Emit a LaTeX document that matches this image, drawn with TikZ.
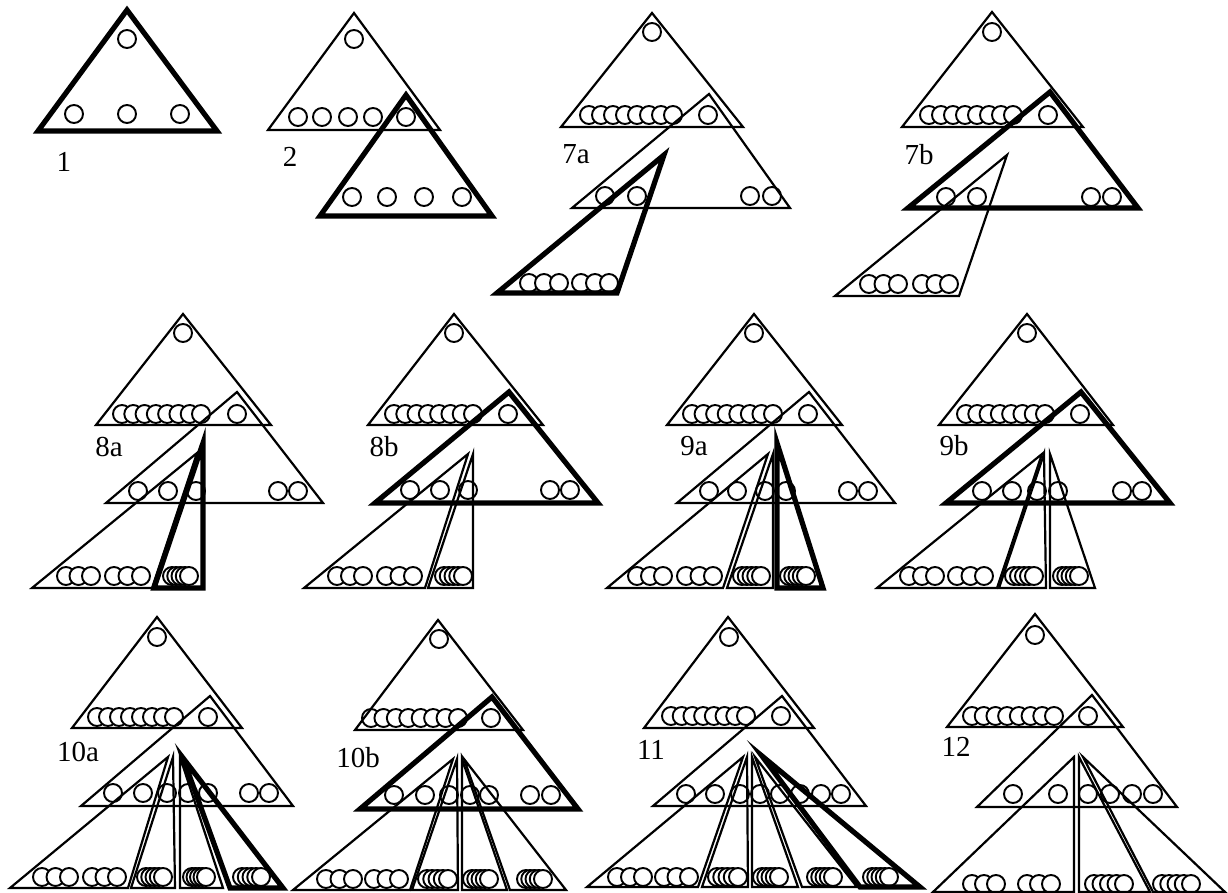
\documentclass[tikz,border=0pt]{standalone}
\usepackage{fontspec}
\setmainfont{Liberation Serif}
\tikzset{
 thintri/.style={draw, line width=1.1pt, line join=miter},
 thicktri/.style={draw, line width=2.6pt, line join=miter},
 ball/.style={draw, fill=white, line width=0.95pt},
 lbl/.style={font=\fontsize{14.5pt}{16pt}\selectfont, anchor=base, inner sep=0pt}
}
\newcommand\Tri[4]{\draw[#1] #2 -- #3 -- #4 -- cycle;}
\newcommand\Balls[2]{\foreach \bx in {#1} {\draw[ball] (\bx,#2) circle[radius=4.5pt];}}
\newcommand\Grp[4]{\foreach \bi in {1,...,#1} {\pgfmathsetmacro\bx{#2+(#3-#2)*(\bi-1)/(#1-1)}\draw[ball] (\bx,#4) circle[radius=4.5pt];}}
\begin{document}
\begin{tikzpicture}[x=0.5pt,y=-0.5pt]
\useasboundingbox (0,0) rectangle (1228,893);
% ---------- Panel 1
\Balls{127}{39}\Balls{74,127,180}{114}
\Tri{thicktri}{(127,10)}{(38,131)}{(217,131)}
\node[lbl] (l1) at (64,172) {1};
% ---------- Panel 2
\Balls{354}{39}\Balls{298,322,348,373,406}{117}
\Balls{352,387,424,462}{197}
\Tri{thintri}{(354,13)}{(268,130)}{(440,130)}
\Tri{thicktri}{(406,95)}{(320,216)}{(492,216)}
\node[lbl] (l2) at (290,167) {2};
% ---------- Panel 7a
\Balls{652}{32}\Grp{8}{589}{673}{115}\Balls{708}{115}
\Balls{605,637,750,772}{196}
\Grp{3}{529}{559}{283}\Grp{3}{581}{609}{283}
\Tri{thintri}{(652,13)}{(561,127)}{(743,127)}
\Tri{thintri}{(709,94)}{(572,208)}{(790,208)}
\Tri{thicktri}{(664,155)}{(497,293)}{(617,293)}
\node[lbl] (l7a) at (576,164) {7a};
% ---------- Panel 7b
\Balls{992}{32}\Grp{8}{929}{1013}{115}\Balls{1048}{115}
\Balls{946,977,1091,1112}{197}
\Grp{3}{869}{898}{284}\Grp{3}{922}{949}{284}
\Tri{thintri}{(992,12)}{(902,127)}{(1083,127)}
\Tri{thintri}{(1007,155)}{(835,296)}{(959,296)}
\Tri{thicktri}{(1050,92)}{(908,208)}{(1138,208)}
\node[lbl] (l7b) at (919,165) {7b};
% ---------- Panel 8a
\Balls{183}{333}\Grp{8}{122}{201}{414}\Balls{237}{414}
\Balls{138,168,196,278,298}{491}
\Grp{3}{66}{91}{576}\Grp{3}{114}{141}{576}\Grp{5}{172}{189}{576}
\Tri{thintri}{(183,314)}{(96,425)}{(271,425)}
\Tri{thintri}{(237,392)}{(106,503)}{(323,503)}
\Tri{thintri}{(197,453)}{(32,588)}{(152,588)}
\Tri{thicktri}{(203,443)}{(154,588)}{(203,588)}
\node[lbl] (l8a) at (109,457) {8a};
% ---------- Panel 8b
\Balls{454}{333}\Grp{8}{394}{473}{414}\Balls{508}{414}
\Balls{410,440,468,550,570}{490}
\Grp{3}{337}{363}{576}\Grp{3}{386}{413}{576}\Grp{5}{444}{463}{576}
\Tri{thintri}{(454,314)}{(368,425)}{(543,425)}
\Tri{thintri}{(468,454)}{(304,588)}{(425,588)}
\Tri{thintri}{(473,454)}{(428,588)}{(473,588)}
\Tri{thicktri}{(509,392)}{(375,503)}{(598,503)}
\node[lbl] (l8b) at (384,457) {8b};
% ---------- Panel 9a
\Balls{754}{333}\Grp{8}{692}{773}{414}\Balls{808}{414}
\Balls{709,737,765,786,848,868}{491}
\Grp{3}{637}{663}{576}\Grp{3}{686}{713}{576}\Grp{5}{742}{761}{576}\Grp{5}{789}{806}{576}
\Tri{thintri}{(754,314)}{(667,425)}{(842,425)}
\Tri{thintri}{(809,392)}{(677,503)}{(895,503)}
\Tri{thintri}{(768,454)}{(607,588)}{(723,588)}
\Tri{thintri}{(773,454)}{(727,588)}{(773,588)}
\Tri{thicktri}{(777,443)}{(777,588)}{(823,588)}
\node[lbl] (l9a) at (694,456) {9a};
% ---------- Panel 9b
\Balls{1027}{333}\Grp{8}{966}{1045}{414}\Balls{1080}{414}
\Balls{982,1012,1037,1058,1122,1142}{491}
\Grp{3}{909}{935}{576}\Grp{3}{957}{984}{576}\Grp{5}{1014}{1034}{576}\Grp{5}{1062}{1079}{576}
\Tri{thintri}{(1027,314)}{(939,425)}{(1113,425)}
\Tri{thintri}{(1042,454)}{(877,588)}{(997,588)}
\Tri{thintri}{(1044,454)}{(999,588)}{(1046,588)}
\Tri{thintri}{(1050,454)}{(1050,588)}{(1095,588)}
\Tri{thicktri}{(1081,392)}{(946,503)}{(1170,503)}
\node[lbl] (l9b) at (954,456) {9b};
% ---------- Panel 10a
\Balls{157}{637}\Grp{8}{97}{174}{717}\Balls{208}{717}
\Balls{113,143,167,188,208,249,269}{793}
\Grp{3}{42}{69}{877}\Grp{3}{92}{117}{877}\Grp{5}{146}{163}{877}\Grp{5}{192}{206}{877}\Grp{5}{242}{261}{877}
\Tri{thintri}{(157,617)}{(72,728)}{(242,728)}
\Tri{thintri}{(210,696)}{(81,806)}{(293,806)}
\Tri{thintri}{(168,757)}{(10,888)}{(128,888)}
\Tri{thintri}{(173,757)}{(131,888)}{(175,888)}
\Tri{thintri}{(180,757)}{(180,888)}{(223,888)}
\Tri{thicktri}{(183,758)}{(230,888)}{(283,888)}
\node[lbl] (l10a) at (78,762) {10a};
% ---------- Panel 10b
\Balls{439}{639}\Grp{8}{371}{458}{718}\Balls{491}{718}
\Balls{394,425,449,470,489,530,551}{795}
\Grp{3}{326}{353}{879}\Grp{3}{374}{399}{879}\Grp{5}{427}{448}{879}\Grp{5}{472}{489}{879}\Grp{5}{526}{543}{879}
\Tri{thintri}{(438,620)}{(355,730)}{(523,730)}
\Tri{thintri}{(453,759)}{(293,890)}{(410,890)}
\Tri{thintri}{(457,759)}{(412,890)}{(458,890)}
\Tri{thintri}{(462,759)}{(462,890)}{(507,890)}
\Tri{thintri}{(464,759)}{(510,890)}{(566,890)}
\Tri{thicktri}{(492,697)}{(360,809)}{(578,809)}
\node[lbl] (l10b) at (358,767) {10b};
% ---------- Panel 11
\Balls{729}{637}\Grp{8}{671}{746}{716}\Balls{781}{716}
\Balls{686,715,740,760,780,800,821,841}{794}
\Grp{3}{617}{643}{877}\Grp{3}{664}{689}{877}\Grp{5}{717}{738}{877}\Grp{5}{762}{779}{877}\Grp{5}{816}{833}{877}\Grp{5}{872}{889}{877}
\Tri{thintri}{(728,617)}{(644,728)}{(814,728)}
\Tri{thintri}{(782,696)}{(653,806)}{(866,806)}
\Tri{thintri}{(743,757)}{(587,887)}{(698,887)}
\Tri{thintri}{(747,757)}{(702,887)}{(748,887)}
\Tri{thintri}{(752,757)}{(752,887)}{(798,887)}
\Tri{thintri}{(755,757)}{(802,887)}{(857,887)}
\Tri{thicktri}{(762,756)}{(860,887)}{(920,887)}
\node[lbl] (l11) at (651,759) {11};
% ---------- Panel 12
\Balls{1035}{635}\Grp{8}{972}{1054}{716}\Balls{1088}{716}
\Balls{1013,1058,1088,1110,1132,1153}{794}
\Grp{3}{972}{996}{884}\Grp{3}{1027}{1051}{884}\Grp{5}{1094}{1124}{884}\Grp{5}{1162}{1191}{884}
\Tri{thintri}{(1035,614)}{(947,727)}{(1123,727)}
\Tri{thintri}{(1092,695)}{(977,807)}{(1177,807)}
\Tri{thintri}{(1074,757)}{(933,892)}{(1074,892)}
\Tri{thintri}{(1079,757)}{(1079,892)}{(1150,892)}
\Tri{thintri}{(1083,757)}{(1153,892)}{(1225,892)}
\node[lbl] (l12) at (956,756) {12};
\end{tikzpicture}
\end{document}
